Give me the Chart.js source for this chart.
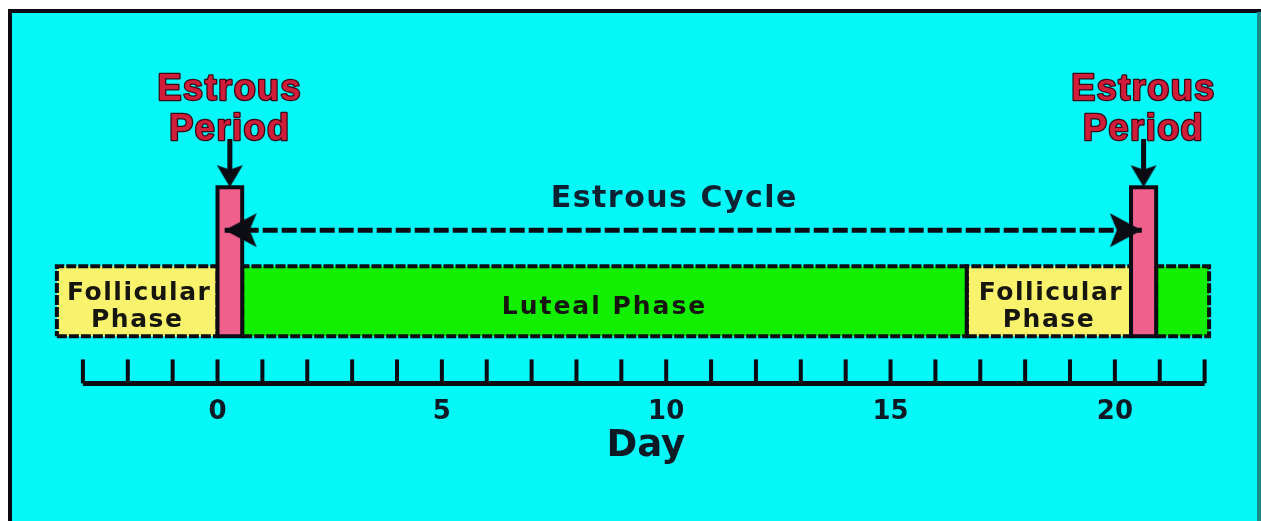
<!DOCTYPE html>
<html>
<head>
<meta charset="utf-8">
<script src="https://cdn.jsdelivr.net/npm/chart.js@4.4.1/dist/chart.umd.min.js"></script>
<style>
    html, body { margin: 0; padding: 0; background: #fff; }
    #wrap { width: 1261px; height: 521px; }
</style>
</head>
<body>
<div id="wrap"><canvas id="myChart"></canvas></div>
<script>
const ctx = document.getElementById('myChart');

// day axis
const dayTicks = [-3, -2, -1, 0, 1, 2, 3, 4, 5, 6, 7, 8, 9, 10, 11, 12, 13, 14, 15, 16, 17, 18, 19, 20, 21, 22];
const dayLabels = [0, 5, 10, 15, 20];

// phases along the band (days)
const phaseNames = ['Follicular\nPhase', 'Luteal Phase', 'Follicular\nPhase', ''];
const phaseKinds = ['follicular', 'luteal', 'follicular', 'luteal'];
const phaseStart = [-3.58, 0.55, 16.7, 20.92];
const phaseEnd = [0, 16.7, 20.36, 22.1];

// estrous periods (days)
const estrousStart = [0, 20.36];
const estrousEnd = [0.55, 20.92];

// estrous cycle arrow, tip to tip (days)
const cycleSpan = [0.16, 20.6];

// vertical levels (y units, 1 unit = 10px)
const BAND_LO = 4.7;
const BAND_HI = 11.7;
const PERIOD_HI = 19.6;
const ARROW_Y = 15.3;
const TICK_Y = 1.2;
const DOWN_TOP = 24.4;

const ink = '#0b0b14';
const phaseColors = {follicular: '#f8f26c', luteal: '#12f000'};
const pink = '#f0608c';

function arrowHead(len, half) {
    const c = document.createElement('canvas');
    c.width = len * 2 + 2;
    c.height = half * 2 + 2;
    const g = c.getContext('2d');
    g.fillStyle = ink;
    g.beginPath();
    g.moveTo(1, 1);
    g.lineTo(len + 1, half + 1);
    g.lineTo(1, half * 2 + 1);
    g.lineTo(len * 0.25, half + 1);
    g.closePath();
    g.fill();
    return c;
}
const cycleHead = arrowHead(32, 17);
const downHead = arrowHead(22, 13);

function rectFill(x0, x1, lo, hi, color, order) {
    return {
        type: 'line',
        data: [{x: x0, y: hi}, {x: x1, y: hi}],
        fill: {value: lo},
        backgroundColor: color,
        borderWidth: 0,
        pointRadius: 0,
        clip: false,
        order: order
    };
}

function rectOutline(x0, x1, lo, hi, color, width, dash, order) {
    return {
        type: 'line',
        data: [{x: x0, y: lo}, {x: x1, y: lo}, {x: x1, y: hi}, {x: x0, y: hi}, {x: x0, y: lo}],
        fill: false,
        borderColor: color,
        borderWidth: width,
        borderDash: dash,
        borderJoinStyle: 'miter',
        pointRadius: 0,
        clip: false,
        order: order
    };
}

function buildDatasets() {
    const sets = [];
    // phase band
    phaseStart.forEach((s, i) => {
        sets.push(rectFill(s, phaseEnd[i], BAND_LO, BAND_HI, phaseColors[phaseKinds[i]], 9));
        sets.push(rectOutline(s, phaseEnd[i], BAND_LO, BAND_HI, ink, 4, [10, 2], 8));
    });
    // estrous period bars + down arrows
    estrousStart.forEach((s, i) => {
        const mid = (s + estrousEnd[i]) / 2;
        sets.push(rectFill(s, estrousEnd[i], BAND_LO, PERIOD_HI, pink, 6));
        sets.push(rectOutline(s, estrousEnd[i], BAND_LO, PERIOD_HI, ink, 4, [], 5));
        sets.push({
            type: 'line',
            data: [{x: mid, y: DOWN_TOP}, {x: mid, y: PERIOD_HI + 1}],
            borderColor: ink,
            borderWidth: 5,
            pointRadius: 0,
            clip: false,
            order: 3
        });
        sets.push({
            type: 'line',
            data: [{x: mid, y: PERIOD_HI}],
            showLine: false,
            pointStyle: downHead,
            pointRotation: 90,
            pointRadius: 12,
            clip: false,
            order: 2
        });
    });
    // estrous cycle dashed arrow
    sets.push({
        type: 'line',
        data: [{x: cycleSpan[0], y: ARROW_Y}, {x: cycleSpan[1], y: ARROW_Y}],
        borderColor: ink,
        borderWidth: 5,
        borderDash: [15, 4],
        pointRadius: 0,
        clip: false,
        order: 3
    });
    sets.push({
        type: 'line',
        data: [{x: cycleSpan[0], y: ARROW_Y}, {x: cycleSpan[1], y: ARROW_Y}],
        showLine: false,
        pointStyle: cycleHead,
        pointRotation: [180, 0],
        pointRadius: 16,
        clip: false,
        order: 2
    });
    // axis line and the tick marks standing on it
    sets.push({
        type: 'line',
        data: [{x: dayTicks[0], y: 0}, {x: dayTicks[dayTicks.length - 1], y: 0}],
        borderColor: ink,
        borderWidth: 5,
        pointRadius: 0,
        clip: false,
        order: 1
    });
    sets.push({
        type: 'line',
        data: dayTicks.map(d => ({x: d, y: TICK_Y})),
        showLine: false,
        pointStyle: 'line',
        pointRotation: 90,
        pointRadius: 12,
        pointBorderWidth: 4,
        pointBorderColor: ink,
        clip: false,
        order: 1
    });
    return sets;
}

const backgroundFrame = {
    id: 'backgroundFrame',
    beforeDraw(chart) {
        const {ctx, width, height} = chart;
        ctx.save();
        ctx.fillStyle = '#ffffff';
        ctx.fillRect(0, 0, width, height);
        ctx.fillStyle = '#0a0a10';
        ctx.fillRect(8, 9, width - 8, height - 9);
        ctx.fillStyle = '#1a8a8a';
        ctx.fillRect(width - 4, 12, 4, height - 12);
        ctx.fillStyle = '#04f8f8';
        ctx.fillRect(12, 13, width - 16, height - 13);
        ctx.restore();
    }
};

const textLabels = {
    id: 'textLabels',
    afterDatasetsDraw(chart) {
        const {ctx, scales: {x, y}} = chart;
        ctx.save();
        ctx.textAlign = 'center';
        ctx.textBaseline = 'middle';

        // phase names inside the band
        ctx.fillStyle = '#16160e';
        const bandMid = y.getPixelForValue((BAND_LO + BAND_HI) / 2);
        phaseNames.forEach((name, i) => {
            if (!name) return;
            const cx = x.getPixelForValue((phaseStart[i] + phaseEnd[i]) / 2);
            const lines = name.split('\n');
            ctx.font = 'bold 25px "DejaVu Sans"';
            if (lines.length > 1) {
                ctx.letterSpacing = '1.5px';
                ctx.fillText(lines[0], cx + 2, bandMid - 8);
                ctx.fillText(lines[1], cx, bandMid + 19);
            } else {
                ctx.letterSpacing = '2px';
                ctx.fillText(lines[0], cx, bandMid + 6);
            }
        });

        // cycle label
        ctx.font = 'bold 30px "DejaVu Sans"';
        ctx.letterSpacing = '1.5px';
        ctx.fillStyle = '#0c2233';
        ctx.fillText('Estrous Cycle', x.getPixelForValue((estrousStart[0] + estrousStart[1]) / 2), y.getPixelForValue(18.4));

        // estrous period labels
        ctx.font = 'bold 36px "Liberation Sans"';
        ctx.letterSpacing = '1.5px';
        ctx.lineWidth = 2.5;
        ctx.lineJoin = 'round';
        ctx.strokeStyle = '#3a0814';
        ctx.fillStyle = '#cf1d3a';
        estrousStart.forEach((s, i) => {
            const cx = x.getPixelForValue((s + estrousEnd[i]) / 2);
            [['Estrous', 29.3], ['Period', 25.3]].forEach(([t, ty]) => {
                const py = y.getPixelForValue(ty);
                ctx.strokeText(t, cx, py);
                ctx.fillText(t, cx, py);
            });
        });
        ctx.restore();
    }
};

const options = {
    responsive: true,
    maintainAspectRatio: false,
    animation: false,
    events: [],
    layout: {
        autoPadding: false,
        padding: {left: 56, right: 51, top: 40, bottom: 48}
    },
    scales: {
        x: {
            type: 'linear',
            min: -3.6,
            max: 22.12,
            afterBuildTicks: scale => {
                scale.ticks = dayLabels.map(v => ({value: v}));
            },
            grid: {display: false},
            border: {display: false},
            ticks: {
                color: '#0c1a26',
                padding: 5,
                font: {family: 'DejaVu Sans', size: 26, weight: 'bold'}
            },
            title: {
                display: true,
                text: '  Day',
                color: '#0c1a26',
                padding: {top: -8, bottom: 4},
                font: {family: 'DejaVu Sans', size: 37, weight: 'bold'}
            }
        },
        y: {
            type: 'linear',
            min: 0,
            max: 34.3,
            display: false
        }
    },
    plugins: {
        legend: {display: false},
        tooltip: {enabled: false}
    }
};

function createChart(ctx, datasets) {
    return new Chart(ctx, {
        type: 'line',
        data: {datasets: datasets},
        options: options,
        plugins: [backgroundFrame, textLabels]
    });
}

createChart(ctx, buildDatasets());
</script>
</body>
</html>
